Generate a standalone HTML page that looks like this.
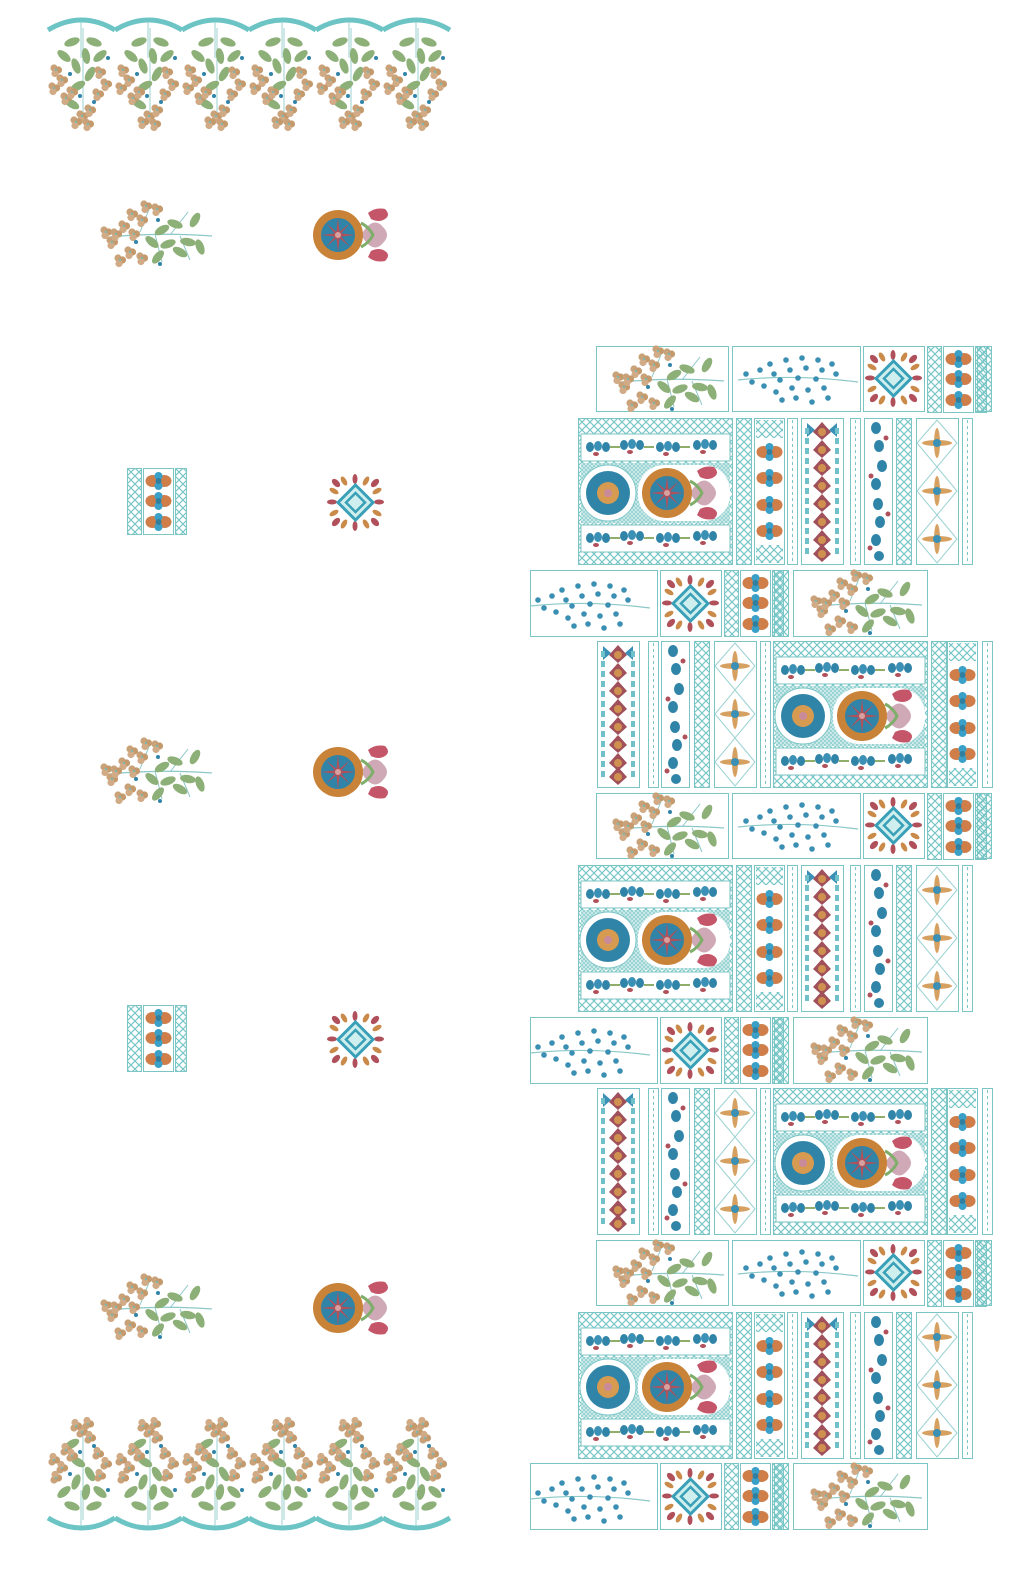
<!DOCTYPE html>
<html><head><meta charset="utf-8"><style>html,body{margin:0;padding:0;background:#fff}svg{display:block}</style></head>
<body>
<svg width="1024" height="1573" viewBox="0 0 1024 1573" xmlns="http://www.w3.org/2000/svg">
<defs>
<pattern id="lat" width="8" height="8" patternUnits="userSpaceOnUse">
<path d="M0 0L8 8M8 0L0 8" stroke="#78c6c6" stroke-width="1.2"/></pattern>
<pattern id="latf" width="4" height="4" patternUnits="userSpaceOnUse">
<rect width="4" height="4" fill="#d6eeee"/><path d="M0 0L4 4M4 0L0 4" stroke="#8fcfcf" stroke-width=".8"/></pattern>
<g id="cl"><circle r="3.6" fill="#c9a27a"/><circle cx="4.5" cy="2" r="3.6" fill="#c49a6c"/><circle cx="1" cy="5.5" r="3.6" fill="#d0ab86"/><circle cx="2" cy="2" r="1.2" fill="#7fb7b0"/></g>
<g id="lf"><ellipse rx="8" ry="4" fill="#8daf78"/></g>
<g id="spray">
<path d="M10 35 Q60 30 112 34" stroke="#8cc8c8" stroke-width="1.3" fill="none"/>
<path d="M40 30 L50 5 M55 32 L62 60 M70 33 L88 10 M80 34 L90 58" stroke="#8cc8c8" stroke-width="1" fill="none"/>
<use href="#lf" transform="translate(62 28) rotate(-30)"/><use href="#lf" transform="translate(75 22) rotate(20)"/>
<use href="#lf" transform="translate(68 42) rotate(-20)"/><use href="#lf" transform="translate(88 40) rotate(10)"/>
<use href="#lf" transform="translate(95 18) rotate(-60)"/><use href="#lf" transform="translate(100 45) rotate(70)"/>
<use href="#lf" transform="translate(52 40) rotate(40)"/><use href="#lf" transform="translate(58 55) rotate(-50)"/>
<use href="#lf" transform="translate(80 50) rotate(30)"/>
<use href="#cl" x="4" y="28"/><use href="#cl" x="10" y="38"/><use href="#cl" x="22" y="22"/><use href="#cl" x="30" y="10"/>
<use href="#cl" x="44" y="2"/><use href="#cl" x="40" y="16"/><use href="#cl" x="28" y="48"/><use href="#cl" x="40" y="54"/>
<use href="#cl" x="18" y="56"/><use href="#cl" x="55" y="5"/><use href="#cl" x="14" y="30"/><use href="#cl" x="32" y="30"/>
<circle cx="36" cy="40" r="2" fill="#2f84a8"/><circle cx="58" cy="18" r="2" fill="#2f84a8"/><circle cx="60" cy="62" r="2" fill="#2f84a8"/>
</g>
<g id="fern">
<path d="M2 28 Q60 22 122 30" stroke="#8cc8c8" stroke-width="1.2" fill="none"/>
<g fill="#3a8fb3">
<circle cx="10" cy="22" r="2.8"/><circle cx="16" cy="30" r="2.8"/><circle cx="24" cy="18" r="2.8"/><circle cx="28" cy="34" r="2.8"/>
<circle cx="34" cy="12" r="2.8"/><circle cx="38" cy="22" r="2.8"/><circle cx="40" cy="40" r="2.8"/><circle cx="46" cy="48" r="2.8"/>
<circle cx="50" cy="8" r="2.8"/><circle cx="54" cy="18" r="2.8"/><circle cx="56" cy="36" r="2.8"/><circle cx="60" cy="46" r="2.8"/>
<circle cx="66" cy="6" r="2.8"/><circle cx="70" cy="16" r="2.8"/><circle cx="72" cy="38" r="2.8"/><circle cx="76" cy="50" r="2.8"/>
<circle cx="82" cy="8" r="2.8"/><circle cx="86" cy="18" r="2.8"/><circle cx="88" cy="36" r="2.8"/><circle cx="92" cy="46" r="2.8"/>
<circle cx="96" cy="12" r="2.8"/><circle cx="100" cy="22" r="2.8"/><circle cx="44" cy="28" r="2.8"/><circle cx="62" cy="26" r="2.8"/><circle cx="80" cy="27" r="2.8"/>
</g></g>
<g id="ros">
<path d="M55 8 Q62 2 72 4 Q78 10 72 14 Q66 18 58 14Z M55 52 Q62 58 72 56 Q78 50 72 46 Q66 42 58 46Z" fill="#c5566a"/>
<path d="M48 30 Q60 10 70 22 Q78 30 70 38 Q60 50 48 30Z" fill="#cfa9b6"/>
<path d="M48 18 Q56 22 60 30 Q56 38 48 42" stroke="#7fae6a" stroke-width="3" fill="none"/>
<circle cx="25" cy="30" r="25" fill="#c98338"/>
<circle cx="25" cy="30" r="17" fill="#2f84a8"/>
<path d="M25 13 L27 30 L25 47 L23 30Z M8 30 L25 28 L42 30 L25 32Z M13 18 L26 29 L37 42 L24 31Z M37 18 L26 31 L13 42 L24 29Z" fill="#b0505a"/>
<circle cx="25" cy="30" r="3" fill="#d9a0a0"/>
</g>
<g id="dia">
<g fill="#b0505a"><ellipse cx="8" cy="8" rx="5" ry="3" transform="rotate(45 8 8)"/><ellipse cx="47" cy="8" rx="5" ry="3" transform="rotate(-45 47 8)"/>
<ellipse cx="8" cy="47" rx="5" ry="3" transform="rotate(-45 8 47)"/><ellipse cx="47" cy="47" rx="5" ry="3" transform="rotate(45 47 47)"/>
<ellipse cx="27" cy="4" rx="2.5" ry="5"/><ellipse cx="27" cy="51" rx="2.5" ry="5"/><ellipse cx="4" cy="27" rx="5" ry="2.5"/><ellipse cx="51" cy="27" rx="5" ry="2.5"/></g>
<g fill="#c98a4a"><ellipse cx="16" cy="6" rx="2.5" ry="5" transform="rotate(-30 16 6)"/><ellipse cx="38" cy="6" rx="2.5" ry="5" transform="rotate(30 38 6)"/>
<ellipse cx="16" cy="49" rx="2.5" ry="5" transform="rotate(30 16 49)"/><ellipse cx="38" cy="49" rx="2.5" ry="5" transform="rotate(-30 38 49)"/>
<ellipse cx="6" cy="16" rx="5" ry="2.5" transform="rotate(30 6 16)"/><ellipse cx="49" cy="16" rx="5" ry="2.5" transform="rotate(-30 49 16)"/>
<ellipse cx="6" cy="38" rx="5" ry="2.5" transform="rotate(-30 6 38)"/><ellipse cx="49" cy="38" rx="5" ry="2.5" transform="rotate(30 49 38)"/></g>
<path d="M27.5 10 L45 27.5 L27.5 45 L10 27.5Z" fill="#cfeeee" stroke="#3aa0b8" stroke-width="3"/>
<path d="M27.5 18 L37 27.5 L27.5 37 L18 27.5Z" fill="none" stroke="#3aa0b8" stroke-width="2.5"/>
</g>
<g id="bud"><ellipse cx="-6" cy="0" rx="7" ry="6" fill="#cf7e4a"/><ellipse cx="6" cy="0" rx="7" ry="6" fill="#cf7e4a"/><circle cy="-5" r="4" fill="#3aa0c8"/><circle cy="5" r="4" fill="#3aa0c8"/><circle r="3" fill="#2f7fa0"/></g>
<g id="strip">
<rect x="0.5" y="0.5" width="14" height="66" fill="url(#lat)" stroke="#7cc5c5"/>
<rect x="16.5" y="0.5" width="30" height="66" fill="#fff" stroke="#7cc5c5"/>
<use href="#bud" x="31.5" y="13"/><use href="#bud" x="31.5" y="33"/><use href="#bud" x="31.5" y="54"/>
<rect x="48.5" y="0.5" width="11" height="66" fill="url(#lat)" stroke="#7cc5c5"/>
</g>
<g id="scal"><path d="M0 12 Q33.5 -8 67 12" stroke="#6cc4c4" stroke-width="5" fill="none"/><path d="M33 4 V40" stroke="#9cd2d2" stroke-width="1"/></g>
<g id="hang">
<path d="M33 0 V90" stroke="#9cd2d2" stroke-width="1"/>
<use href="#lf" transform="translate(22 14) rotate(-20)"/><use href="#lf" transform="translate(44 14) rotate(20)"/>
<use href="#lf" transform="translate(14 28) rotate(40)"/><use href="#lf" transform="translate(50 28) rotate(-40)"/>
<use href="#lf" transform="translate(26 38) rotate(70)"/><use href="#lf" transform="translate(40 46) rotate(-60)"/>
<use href="#lf" transform="translate(28 58) rotate(-30)"/><use href="#lf" transform="translate(22 76) rotate(30)"/>
<use href="#lf" transform="translate(36 28) rotate(80)"/>
<use href="#cl" x="4" y="40"/><use href="#cl" x="10" y="50"/><use href="#cl" x="2" y="58"/><use href="#cl" x="14" y="68"/>
<use href="#cl" x="48" y="42"/><use href="#cl" x="54" y="54"/><use href="#cl" x="46" y="64"/><use href="#cl" x="30" y="86"/>
<use href="#cl" x="38" y="80"/><use href="#cl" x="24" y="92"/><use href="#cl" x="36" y="94"/><use href="#cl" x="20" y="62"/>
<circle cx="20" cy="46" r="2" fill="#2f84a8"/><circle cx="30" cy="68" r="2" fill="#2f84a8"/><circle cx="44" cy="74" r="2" fill="#2f84a8"/><circle cx="58" cy="30" r="2" fill="#2f84a8"/>
</g>
<g id="pais"><ellipse cx="0" cy="0" rx="4" ry="5" fill="#2f84a8"/><ellipse cx="8" cy="-1" rx="4" ry="5" fill="#3a90b5"/><ellipse cx="16" cy="0" rx="4" ry="5" fill="#2f84a8"/><ellipse cx="6" cy="7" rx="3" ry="2" fill="#b0505a"/></g>
<g id="band"><use href="#pais" x="8" y="12"/><use href="#pais" x="42" y="10"/><use href="#pais" x="78" y="12"/><use href="#pais" x="115" y="10"/>
<path d="M28 12 H38 M62 12 H72 M98 12 H108" stroke="#8fae6a" stroke-width="2"/></g>
<g id="big">
<rect x="0.5" y="0.5" width="154" height="146" fill="url(#lat)" stroke="#7cc5c5"/>
<rect x="3" y="16" width="149" height="27" fill="#fff" stroke="#7cc5c5"/>
<use href="#band" x="4" y="17"/>
<rect x="3" y="45" width="149" height="60" fill="url(#latf)"/>
<circle cx="30" cy="75" r="28" fill="#fff" stroke="#7cc5c5"/>
<circle cx="30" cy="75" r="22" fill="#2f84a8"/><circle cx="30" cy="75" r="11" fill="#d69a50"/><circle cx="30" cy="75" r="4" fill="#c98a9a"/>
<rect x="60" y="47" width="92" height="56" rx="26" fill="#fff"/>
<use href="#ros" x="64" y="45"/>
<rect x="3" y="107" width="149" height="27" fill="#fff" stroke="#7cc5c5"/>
<use href="#band" x="4" y="108"/>
</g>
<g id="col"><rect x="0.5" y="0.5" width="42" height="146" fill="#fff" stroke="#7cc5c5"/>
<g fill="#3a90b5"><path d="M6 5 L14 12 L6 19Z M36 5 L28 12 L36 19Z"/></g>
<g id="cu"><path d="M21 4 L30 14 L21 22 L12 14Z" fill="#a0505a"/><circle cx="21" cy="14" r="4" fill="#d09050"/></g>
<use href="#cu" y="18"/><use href="#cu" y="36"/><use href="#cu" y="54"/><use href="#cu" y="72"/><use href="#cu" y="90"/><use href="#cu" y="108"/><use href="#cu" y="122"/>
<path d="M6 10 V140 M36 10 V140" stroke="#6fc0c8" stroke-width="4" stroke-dasharray="6 4"/></g>
<g id="narrow"><rect x="0.5" y="0.5" width="10" height="146" fill="#fff" stroke="#7cc5c5"/><path d="M5.5 2 V145" stroke="#7cc5c5" stroke-dasharray="3 3"/></g>
<g id="latv"><rect x="0.5" y="0.5" width="15" height="146" fill="url(#lat)" stroke="#7cc5c5"/></g>
<g id="motv"><rect x="0.5" y="0.5" width="30" height="146" fill="#fff" stroke="#7cc5c5"/>
<rect x="2" y="2" width="27" height="18" fill="url(#lat)"/><rect x="2" y="127" width="27" height="18" fill="url(#lat)"/>
<use href="#bud" x="15.5" y="34"/><use href="#bud" x="15.5" y="60"/><use href="#bud" x="15.5" y="87"/><use href="#bud" x="15.5" y="113"/></g>
<g id="paiv"><rect x="0.5" y="0.5" width="28" height="146" fill="#fff" stroke="#7cc5c5"/>
<g fill="#2f84a8"><ellipse cx="12" cy="10" rx="5" ry="6"/><ellipse cx="15" cy="28" rx="5" ry="6"/><ellipse cx="18" cy="48" rx="5" ry="6"/><ellipse cx="12" cy="66" rx="5" ry="6"/><ellipse cx="14" cy="86" rx="5" ry="6"/><ellipse cx="16" cy="104" rx="5" ry="6"/><ellipse cx="12" cy="122" rx="5" ry="6"/><ellipse cx="15" cy="138" rx="5" ry="5"/></g>
<g fill="#b0505a"><circle cx="22" cy="20" r="2.5"/><circle cx="7" cy="58" r="2.5"/><circle cx="24" cy="96" r="2.5"/><circle cx="6" cy="130" r="2.5"/></g></g>
<g id="diav"><rect x="0.5" y="0.5" width="42" height="146" fill="#fff" stroke="#7cc5c5"/>
<path d="M21 2 L41 25 L21 49 L1 25Z M21 49 L41 73 L21 97 L1 73Z M21 97 L41 121 L21 145 L1 121Z" fill="none" stroke="#9cd2d2"/>
<g id="cr"><ellipse cx="21" cy="25" rx="15" ry="3" fill="#d6a060"/><ellipse cx="21" cy="25" rx="3" ry="15" fill="#d6a060"/><circle cx="21" cy="25" r="4" fill="#3a90b5"/></g>
<use href="#cr" y="48"/><use href="#cr" y="96"/></g>
<g id="rowA">
<rect x="596.5" y="346.5" width="132" height="65" fill="#fff" stroke="#7cc5c5"/><use href="#spray" x="612" y="347"/>
<rect x="732.5" y="346.5" width="128" height="65" fill="#fff" stroke="#7cc5c5"/><use href="#fern" x="736" y="352"/>
<rect x="863.5" y="346.5" width="61" height="65" fill="#fff" stroke="#7cc5c5"/><use href="#dia" x="866" y="351"/>
<use href="#strip" x="927" y="346"/>
<rect x="977.5" y="346.5" width="14" height="65" fill="url(#lat)" stroke="#7cc5c5"/>
</g>
<g id="rowB">
<use href="#big" x="578" y="418"/>
<use href="#latv" x="736" y="418"/><use href="#motv" x="754" y="418"/><use href="#narrow" x="787" y="418"/>
<use href="#col" x="801" y="418"/><use href="#narrow" x="850" y="418"/><use href="#paiv" x="864" y="418"/>
<use href="#latv" x="896" y="418"/><use href="#diav" x="916" y="418"/><use href="#narrow" x="962" y="418"/>
</g>
<g id="rowC">
<rect x="530.5" y="570.5" width="127" height="66" fill="#fff" stroke="#7cc5c5"/><use href="#fern" x="528" y="578"/>
<rect x="660.5" y="570.5" width="61" height="66" fill="#fff" stroke="#7cc5c5"/><use href="#dia" x="663" y="576"/>
<use href="#strip" x="724" y="570"/>
<rect x="774.5" y="570.5" width="14" height="66" fill="url(#lat)" stroke="#7cc5c5"/>
<rect x="793.5" y="570.5" width="134" height="66" fill="#fff" stroke="#7cc5c5"/><use href="#spray" x="810" y="571"/>
</g>
<g id="rowD">
<use href="#col" x="597" y="641"/><use href="#narrow" x="648" y="641"/><use href="#paiv" x="661" y="641"/>
<use href="#latv" x="694" y="641"/><use href="#diav" x="714" y="641"/><use href="#narrow" x="760" y="641"/>
<use href="#big" x="773" y="641"/><use href="#latv" x="931" y="641"/><use href="#motv" x="947" y="641"/><use href="#narrow" x="982" y="641"/>
</g>
<g id="ms1"><use href="#spray" x="100" y="202"/><use href="#ros" x="313" y="205"/></g>
<g id="ms2"><use href="#strip" x="127" y="468"/><use href="#dia" x="328" y="475"/></g>
</defs>

<g>
<use href="#scal" x="48" y="18"/><use href="#scal" x="115" y="18"/><use href="#scal" x="182" y="18"/>
<use href="#scal" x="249" y="18"/><use href="#scal" x="316" y="18"/><use href="#scal" x="383" y="18"/>
<use href="#hang" x="50" y="28"/><use href="#hang" x="117" y="28"/><use href="#hang" x="184" y="28"/>
<use href="#hang" x="251" y="28"/><use href="#hang" x="318" y="28"/><use href="#hang" x="385" y="28"/>
</g>
<g transform="translate(0 1548) scale(1 -1)">
<use href="#scal" x="48" y="18"/><use href="#scal" x="115" y="18"/><use href="#scal" x="182" y="18"/>
<use href="#scal" x="249" y="18"/><use href="#scal" x="316" y="18"/><use href="#scal" x="383" y="18"/>
<use href="#hang" x="50" y="28"/><use href="#hang" x="117" y="28"/><use href="#hang" x="184" y="28"/>
<use href="#hang" x="251" y="28"/><use href="#hang" x="318" y="28"/><use href="#hang" x="385" y="28"/>
</g>

<use href="#ms1"/><use href="#ms1" y="537"/><use href="#ms1" y="1073"/>
<use href="#ms2"/><use href="#ms2" y="537"/>

<use href="#rowA"/><use href="#rowA" y="447"/><use href="#rowA" y="894"/>
<use href="#rowB"/><use href="#rowB" y="447"/><use href="#rowB" y="894"/>
<use href="#rowC"/><use href="#rowC" y="447"/><use href="#rowC" y="893"/>
<use href="#rowD"/><use href="#rowD" y="447"/>
</svg>
</body></html>
